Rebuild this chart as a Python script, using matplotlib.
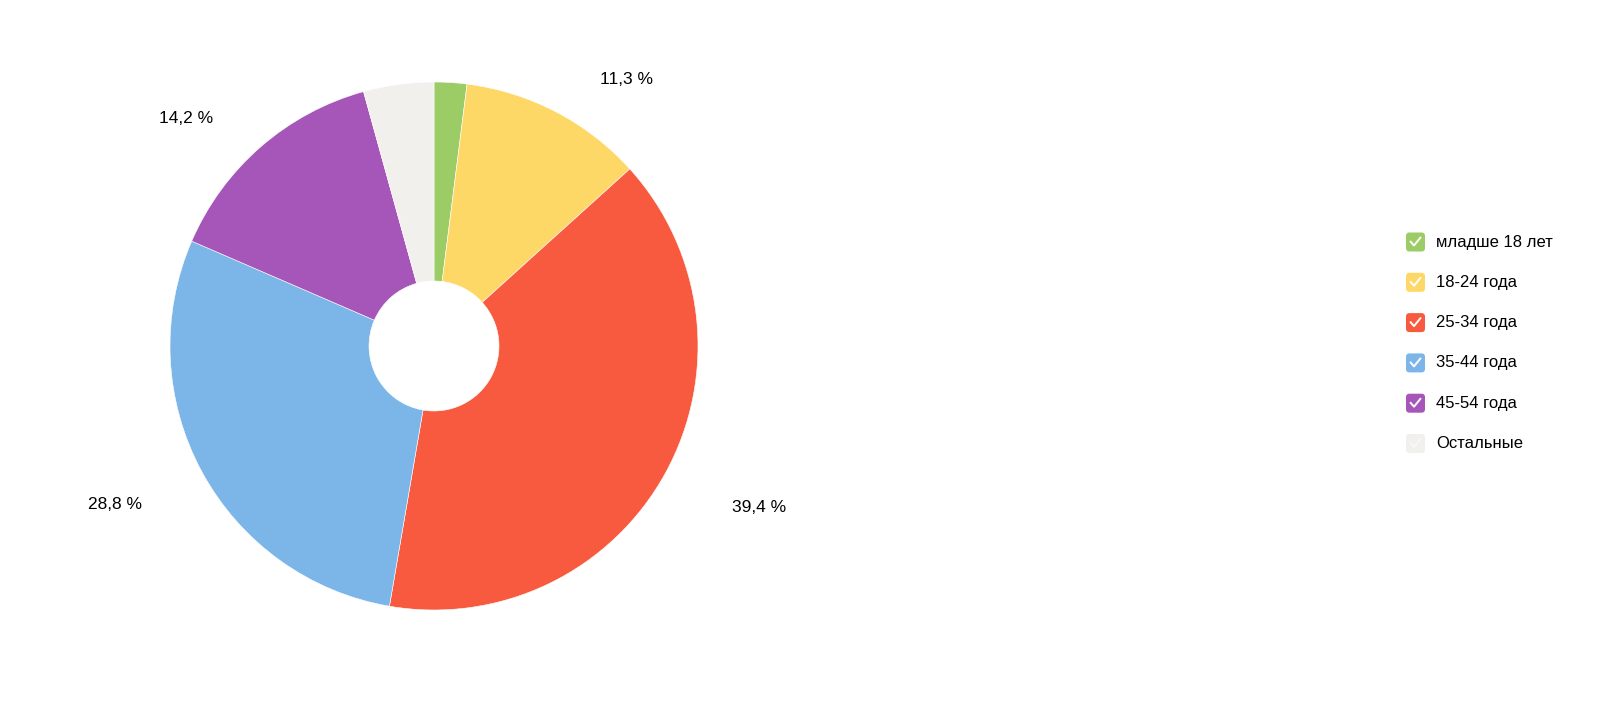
import matplotlib
matplotlib.use('Agg')
from matplotlib import pyplot as plt
from matplotlib.patches import FancyBboxPatch
from matplotlib.lines import Line2D
from matplotlib.transforms import IdentityTransform

plt.rcParams['font.family'] = ['Liberation Sans', 'DejaVu Sans']

categories = ['младше 18 лет', '18-24 года', '25-34 года', '35-44 года', '45-54 года', 'Остальные']
shares = [2.0, 11.3, 39.4, 28.8, 14.2, 4.3]
colors = ['#9ccc65', '#fed866', '#f85a40', '#7cb5e8', '#a556b8', '#f2f0ed']
shown_labels = ['', '11,3 %', '39,4 %', '28,8 %', '14,2 %', '']
# label positions in units of pie radius (x right, y up)
label_pos = [None, (0.73, 1.01), (1.23, -0.61), (-1.21, -0.60), (-0.94, 0.86), None]

W, H = 1600, 714
fig = plt.figure(figsize=(W / 100, H / 100), dpi=100)

cx, cy, R = 434, 346, 264  # pixels, top-down
ax = fig.add_axes([(cx - R) / W, (H - cy - R) / H, 2 * R / W, 2 * R / H])
ax.pie(shares, colors=colors, startangle=90, counterclock=False, radius=1,
       wedgeprops=dict(width=1 - 65 / 264, edgecolor='white', linewidth=0.4))
ax.set_xlim(-1, 1)
ax.set_ylim(-1, 1)
ax.set_aspect('equal')
ax.axis('off')

for txt, pos in zip(shown_labels, label_pos):
    if txt:
        ax.text(pos[0], pos[1], txt, ha='center', va='center', fontsize=12.5,
                color='#000000', clip_on=False)

# legend drawn with checkbox squares
tr = IdentityTransform()
lx, ly0, step, sq = 1406, 242, 40.3, 19
for i, (name, c) in enumerate(zip(categories, colors)):
    yc = H - (ly0 + i * step)
    box = FancyBboxPatch((lx, yc - sq / 2), sq, sq,
                         boxstyle='round,pad=0,rounding_size=3.5',
                         facecolor=c, edgecolor='none', transform=tr)
    fig.add_artist(box)
    ck = '#ffffff' if i < len(categories) - 1 else '#f8f7f5'
    fig.add_artist(Line2D([lx + 4.5, lx + 8, lx + 14.5], [yc + 0.5, yc - 3.5, yc + 4.5],
                          color=ck, lw=1.4, transform=tr, solid_capstyle='round',
                          solid_joinstyle='round'))
    fig.text((lx + 30) / W, yc / H, name, ha='left', va='center', fontsize=12,
             color='#000000')

fig.savefig('out.png', dpi=100, facecolor='white')
